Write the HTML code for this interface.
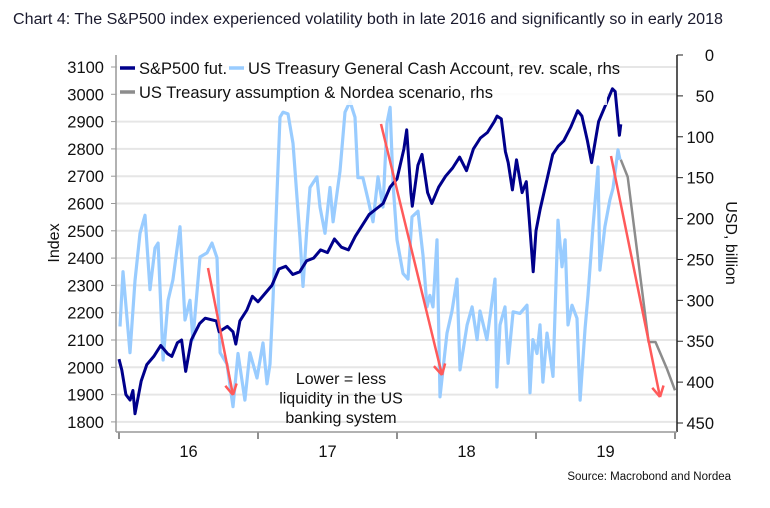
<!DOCTYPE html>
<html><head><meta charset="utf-8">
<style>
html,body{margin:0;padding:0;background:#fff;}
body{width:770px;height:503px;overflow:hidden;font-family:"Liberation Sans",sans-serif;}
svg text{font-family:"Liberation Sans",sans-serif;}
</style></head>
<body>
<svg id="chart" width="770" height="503" viewBox="0 0 770 503" xmlns="http://www.w3.org/2000/svg">
<text x="13" y="24" font-size="15.5" fill="#1a1a2e" textLength="710" lengthAdjust="spacingAndGlyphs">Chart 4: The S&amp;P500 index experienced volatility both in late 2016 and significantly so in early 2018</text>
<g id="grid"></g>
<g id="series"></g>
<g id="axes"></g>
</svg>
<script>
// ---- data ----
const leftTicks = [1800,1900,2000,2100,2200,2300,2400,2500,2600,2700,2800,2900,3000,3100];
const rightTicks = [0,50,100,150,200,250,300,350,400,450];
const yearTicks = [2016,2017,2018,2019,2020];
const yearLabels = ["16","17","18","19"];
const spxDates = [2016.00,2016.02,2016.05,2016.08,2016.10,2016.115,2016.16,2016.20,2016.25,2016.30,2016.35,2016.38,2016.42,2016.45,2016.48,2016.52,2016.58,2016.62,2016.70,2016.72,2016.78,2016.82,2016.84,2016.87,2016.92,2016.96,2017.00,2017.05,2017.10,2017.15,2017.20,2017.25,2017.30,2017.35,2017.40,2017.45,2017.50,2017.55,2017.60,2017.65,2017.70,2017.75,2017.80,2017.85,2017.90,2017.95,2018.00,2018.05,2018.07,2018.10,2018.11,2018.15,2018.18,2018.22,2018.25,2018.30,2018.35,2018.40,2018.45,2018.50,2018.55,2018.60,2018.65,2018.70,2018.72,2018.75,2018.78,2018.80,2018.83,2018.86,2018.90,2018.93,2018.95,2018.98,2019.00,2019.03,2019.08,2019.12,2019.16,2019.20,2019.25,2019.30,2019.33,2019.37,2019.40,2019.45,2019.50,2019.55,2019.57,2019.60,2019.61];
const spxValues = [2030,1990,1900,1880,1915,1830,1950,2010,2040,2080,2050,2040,2090,2100,1985,2100,2160,2180,2170,2130,2150,2130,2085,2170,2210,2260,2240,2270,2300,2360,2370,2340,2350,2390,2400,2430,2420,2470,2440,2430,2480,2520,2560,2580,2600,2660,2690,2800,2870,2640,2590,2740,2780,2640,2600,2660,2700,2730,2770,2720,2800,2840,2860,2900,2920,2910,2790,2750,2650,2760,2640,2680,2550,2350,2500,2580,2690,2780,2810,2830,2880,2940,2920,2830,2750,2900,2960,3020,3010,2850,2890];
const tgaDates = [2016.007,2016.029,2016.079,2016.115,2016.151,2016.187,2016.223,2016.259,2016.281,2016.317,2016.353,2016.388,2016.439,2016.475,2016.511,2016.532,2016.583,2016.633,2016.669,2016.705,2016.727,2016.777,2016.820,2016.856,2016.906,2016.942,2016.993,
2017.036,2017.065,2017.086,2017.108,2017.137,2017.158,2017.180,2017.216,2017.252,2017.281,2017.302,2017.324,2017.353,2017.374,2017.424,2017.446,2017.482,2017.518,2017.540,2017.590,2017.626,2017.662,2017.698,2017.719,2017.755,2017.791,2017.827,2017.863,2017.899,2017.928,2017.950,2017.971,
2018.000,2018.043,2018.079,2018.108,2018.151,2018.187,2018.216,2018.237,2018.259,2018.288,2018.309,2018.360,2018.396,2018.432,2018.453,2018.504,2018.540,2018.576,2018.597,2018.647,2018.705,2018.719,2018.741,2018.777,2018.799,2018.835,2018.885,2018.935,2018.957,2018.978,
2019.007,2019.029,2019.050,2019.079,2019.122,2019.158,2019.187,2019.209,2019.230,2019.259,2019.295,2019.317,2019.353,2019.374,2019.410,2019.446,2019.460,2019.496,2019.532,2019.554,2019.590,2019.604];
const tgaValues = [332,265,364,276,218,196,287,236,230,373,300,275,210,324,300,348,247,242,230,248,364,378,430,365,422,364,395,
352,402,378,300,169,76,70,72,108,176,224,283,208,162,149,186,218,162,204,142,70,57,76,150,150,176,204,149,186,83,64,157,
226,267,274,198,191,245,308,294,308,226,418,340,313,274,385,330,308,348,313,348,274,406,330,308,377,314,316,306,413,348,
365,330,400,340,393,202,259,226,330,306,322,422,334,294,210,137,263,210,177,163,116,128];
const scenDates = [2019.61,2019.66,2019.81,2019.86,2019.94,2020.0];
const scenValues = [128,149,351,351,383,410];

// ---- scales ----
const X0 = 119, YEARW = 139;
const xs = d => X0 + (d - 2016) * YEARW;
const yl = v => 67 + (3100 - v) * 0.273;
const yr = v => 55 + v * 0.8178;
const NS = "http://www.w3.org/2000/svg";
function mk(tag, attrs, parent, text) {
  const e = document.createElementNS(NS, tag);
  for (const k in attrs) e.setAttribute(k, attrs[k]);
  if (text !== undefined) e.textContent = text;
  parent.appendChild(e);
  return e;
}
const grid = document.getElementById('grid');
const series = document.getElementById('series');
const axes = document.getElementById('axes');

leftTicks.forEach(v => {
  const l = mk('line', {x1: 116, x2: 677, y1: yl(v), y2: yl(v), stroke: '#e6e6e6', 'stroke-width': 2}, grid);
  
  
  const t = mk('text', {x: 104, y: yl(v) + 6, 'font-size': 16.5, 'text-anchor': 'end', fill: '#111'}, axes, String(v));
  
  
  const tk = mk('line', {x1: 111, x2: 116, y1: yl(v), y2: yl(v), stroke: '#999', 'stroke-width': 1}, axes);
  
  
});
rightTicks.forEach(v => {
  const t = mk('text', {x: 714, y: yr(v) + 6, 'font-size': 16.5, 'text-anchor': 'end', fill: '#111'}, axes, String(v));
  
  
  const tk = mk('line', {x1: 677, x2: 683, y1: yr(v), y2: yr(v), stroke: '#222', 'stroke-width': 1}, axes);
  
  
});
yearTicks.forEach(y => {
  const tk = mk('line', {x1: xs(y), x2: xs(y), y1: 432, y2: 439, stroke: '#222', 'stroke-width': 1}, axes);
  
  
});
yearLabels.forEach((s, i) => {
  const t = mk('text', {x: xs(yearTicks[i] + 0.5), y: 457, 'font-size': 16.5, 'text-anchor': 'middle', fill: '#111'}, axes, s);
  
  
});
let a;
a = mk('line', {x1: 116, x2: 116, y1: 55, y2: 432, stroke: '#999', 'stroke-width': 1.5}, axes);
 
a = mk('line', {x1: 677, x2: 677, y1: 55, y2: 432, stroke: '#222', 'stroke-width': 1.5}, axes);
 
a = mk('line', {x1: 116, x2: 677, y1: 432, y2: 432, stroke: '#999', 'stroke-width': 1.5}, axes);
 

function path(dates, vals, yf, color, w, name) {
  const n = Math.min(dates.length, vals.length);
  let d = '';
  for (let i = 0; i < n; i++) d += (i ? 'L' : 'M') + xs(dates[i]).toFixed(1) + ',' + yf(vals[i]).toFixed(1);
  const p = mk('path', {d: d, fill: 'none', stroke: color, 'stroke-width': w, 'stroke-linejoin': 'round'}, series);
  
  
}
path(tgaDates, tgaValues, yr, '#99ccff', 3.2, 'tga-line');
path(scenDates, scenValues, yr, '#8c8c8c', 2.5, 'scenario-line');
path(spxDates, spxValues, yl, '#00008b', 3, 'sp500-line');

// annotation arrows
function arrow(x1, y1, x2, y2) {
  const g = mk('g', {}, series);
  
  
  mk('line', {x1: x1, y1: y1, x2: x2, y2: y2, stroke: '#ff5a5a', 'stroke-width': 2.5}, g);
  const ang = Math.atan2(y2 - y1, x2 - x1);
  const L = 12;
  [0.5, -0.5].forEach(s => {
    mk('line', {x1: x2, y1: y2, x2: x2 - L * Math.cos(ang + s), y2: y2 - L * Math.sin(ang + s), stroke: '#ff5a5a', 'stroke-width': 2.5}, g);
  });
}
arrow(208, 268, 233, 395);
arrow(381, 124, 442, 375);
arrow(611, 156, 660, 397);

// legend
const lg = mk('g', {}, axes);


mk('rect', {x: 117, y: 55, width: 490, height: 50, fill: '#fff', opacity: 0.85}, lg);
function entry(x, y, color, label, name) {
  const g = mk('g', {}, lg);
  
  
  mk('line', {x1: x, x2: x + 15, y1: y - 6, y2: y - 6, stroke: color, 'stroke-width': 3.5}, g);
  mk('text', {x: x + 19, y: y, 'font-size': 16.5, fill: '#111'}, g, label);
}
entry(120, 74, '#00008b', 'S&P500 fut.', 'legend-entry-sp500');
entry(229, 74, '#99ccff', 'US Treasury General Cash Account, rev. scale, rhs', 'legend-entry-tga');
entry(120, 98, '#8c8c8c', 'US Treasury assumption & Nordea scenario, rhs', 'legend-entry-scenario');

// axis titles / notes
let t;
t = mk('text', {x: 0, y: 0, 'font-size': 16, 'text-anchor': 'middle', fill: '#111', transform: 'translate(59,243) rotate(-90)'}, axes, 'Index');
 
t = mk('text', {x: 0, y: 0, 'font-size': 16, 'text-anchor': 'middle', fill: '#111', transform: 'translate(726,243) rotate(90)'}, axes, 'USD, billion');
 
const notes = ['Lower = less', 'liquidity in the US', 'banking system'];
notes.forEach((s, i) => {
  const n = mk('text', {x: 341, y: 384 + i * 19.5, 'font-size': 16, 'text-anchor': 'middle', fill: '#111'}, axes, s);
  
  
});
t = mk('text', {x: 731, y: 480, 'font-size': 11.5, 'text-anchor': 'end', fill: '#111'}, axes, 'Source: Macrobond and Nordea');
 
</script>
</body></html>
